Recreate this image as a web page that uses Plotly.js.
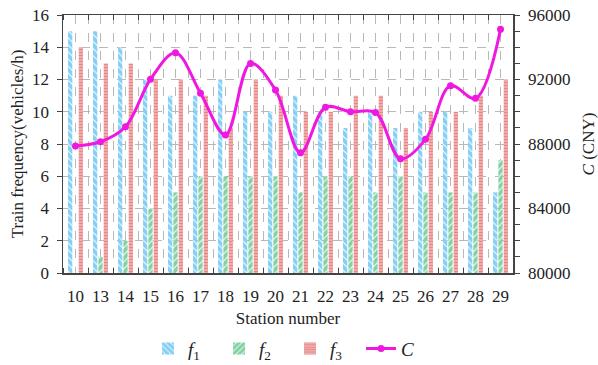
<!DOCTYPE html>
<html><head><meta charset="utf-8">
<script src="https://cdn.plot.ly/plotly-3.0.1.min.js"></script>
<style>html,body{margin:0;padding:0;background:#fff}#chart{width:598px;height:365px}</style>
</head><body><div id="chart"></div>
<script>
const stations = ['10','13','14','15','16','17','18','19','20','21','22','23','24','25','26','27','28','29'];
const f1 = [15,15,14,12,11,11,12,10,10,11,10,9,10,9,10,10,9,5];
const f2 = [0,1,2,4,5,6,6,6,6,5,6,6,5,6,5,5,5,7];
const f3 = [14,13,13,12,12,11,9,12,11,10,10,11,11,9,10,10,11,12];
const costC = [87880,88140,89070,92010,93660,91150,88560,93000,91350,87460,90280,90000,89950,87090,88290,91620,90830,95110];

const xs = stations.map((s,i)=>i);
const font = 'Liberation Serif, Times New Roman, serif';
const tc = '#222';

const traces = [
  {type:'bar', x:xs, y:f1, name:'<i>f</i><sub>1</sub>',
   marker:{color:'#fff', line:{width:0}, pattern:{shape:'\\', fgcolor:'#0a9fe8', bgcolor:'#ffffff', size:5, solidity:0.8, fillmode:'overlay'}}},
  {type:'bar', x:xs, y:f2, name:'<i>f</i><sub>2</sub>',
   marker:{color:'#fff', line:{width:0}, pattern:{shape:'/', fgcolor:'#08a448', bgcolor:'#ffffff', size:5, solidity:0.8, fillmode:'overlay'}}},
  {type:'bar', x:xs, y:f3, name:'<i>f</i><sub>3</sub>',
   marker:{color:'#f4c4c4', line:{width:0}, pattern:{shape:'-', fgcolor:'#d94040', bgcolor:'#f6cccc', size:3, solidity:0.65, fillmode:'overlay'}}},
  {type:'scatter', mode:'lines+markers', x:xs, y:costC, yaxis:'y2', name:'<i>C</i>',
   line:{color:'#f018e0', width:3, shape:'spline', smoothing:1}, marker:{color:'#f018e0', size:7}}
];

const layout = {
  width:598, height:365,
  margin:{l:63, r:85, t:15, b:92},
  paper_bgcolor:'#fff', plot_bgcolor:'#fff',
  font:{family:font, size:17, color:tc},
  barmode:'group', bargap:0.36, bargroupgap:0.2,
  showlegend:true,
  legend:{orientation:'h', xref:'container', yref:'container', x:0.485, xanchor:'center', y:0.045, yanchor:'middle',
    font:{family:font, size:19, color:tc}, entrywidth:26, traceorder:'normal', bgcolor:'rgba(0,0,0,0)'},
  xaxis:{
    automargin:false,
    range:[-0.5,17.5], tickmode:'array', tickvals:xs, ticktext:stations,
    ticks:'outside', ticklen:7, tickcolor:'rgba(0,0,0,0)', showgrid:true, gridcolor:'#b8b8b8', griddash:'dash', gridwidth:1,
    showline:true, linecolor:'#444', linewidth:1.5, mirror:'ticks', zeroline:false,
    tickfont:{family:font, size:17, color:tc},
    minor:{tickmode:'linear', tick0:-0.5, dtick:1, ticks:'inside', ticklen:5, tickcolor:'#444',
      showgrid:true, gridcolor:'#b8b8b8', griddash:'dash', gridwidth:1},
    title:{text:'Station number', font:{family:font, size:17, color:tc}, standoff:7}
  },
  yaxis:{
    automargin:false,
    range:[0,16], dtick:2, ticks:'outside', ticklen:5, tickcolor:'#444', ticklabelstandoff:4,
    showgrid:true, gridcolor:'#b8b8b8', griddash:'dash', gridwidth:1,
    showline:true, linecolor:'#444', linewidth:1.5, zeroline:false,
    tickfont:{family:font, size:17, color:tc},
    title:{text:'Train frequency(vehicles/h)', font:{family:font, size:17, color:tc}, standoff:4}
  },
  yaxis2:{
    automargin:false,
    overlaying:'y', side:'right', range:[80000,96000], dtick:4000, tickformat:'d',
    ticks:'outside', ticklen:5, tickcolor:'#444', ticklabelstandoff:5,
    minor:{dtick:1000, ticks:'outside', ticklen:5, tickcolor:'#444', showgrid:false},
    showgrid:false, showline:true, linecolor:'#444', linewidth:1.5, zeroline:false,
    tickfont:{family:font, size:17, color:tc},
    title:{text:'<i>C</i> (CNY)', font:{family:font, size:17, color:tc}, standoff:14}
  }
};

Plotly.newPlot('chart', traces, layout, {displayModeBar:false, staticPlot:true});
</script>
</body></html>
